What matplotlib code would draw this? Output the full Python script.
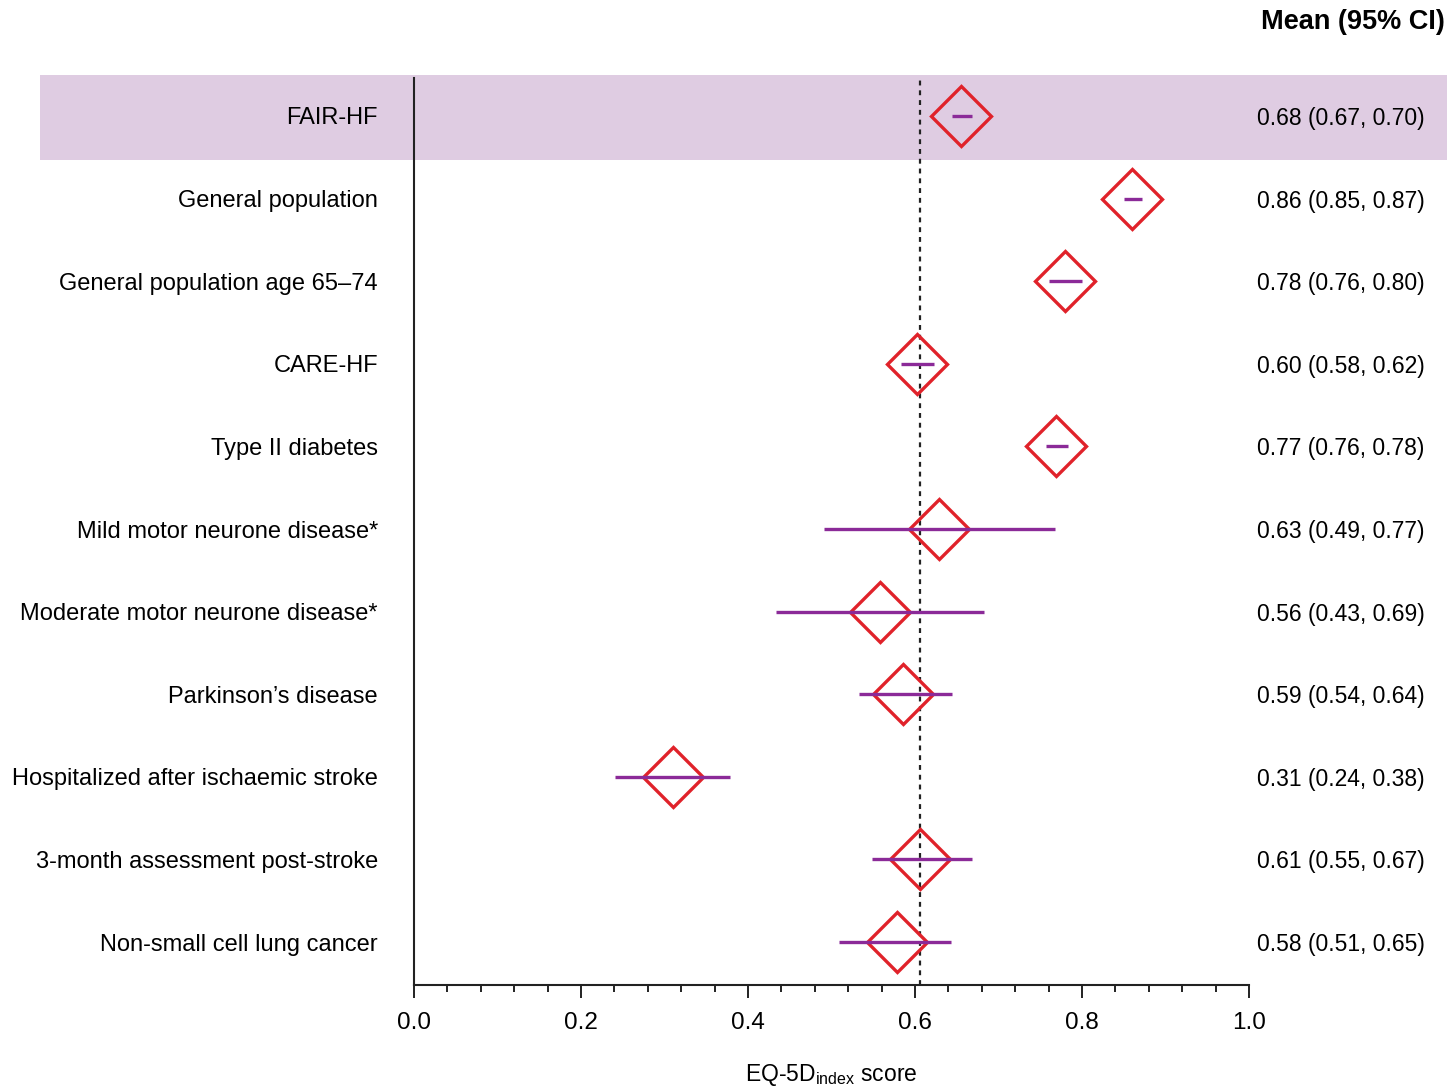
import matplotlib
matplotlib.use("Agg")
import matplotlib.pyplot as plt
from matplotlib.patches import Rectangle
from matplotlib.ticker import MultipleLocator
import matplotlib.transforms as mtransforms

plt.rcParams['font.family'] = ['Liberation Sans', 'DejaVu Sans']
plt.rcParams['mathtext.fontset'] = 'custom'
plt.rcParams['mathtext.rm'] = 'Liberation Sans'

categories = ["FAIR-HF", "General population", "General population age 65\u201374",
              "CARE-HF", "Type II diabetes", "Mild motor neurone disease*",
              "Moderate motor neurone disease*", "Parkinson\u2019s disease",
              "Hospitalized after ischaemic stroke", "3-month assessment post-stroke",
              "Non-small cell lung cancer"]
means = [0.655, 0.860, 0.780, 0.602, 0.769, 0.629, 0.558, 0.586, 0.310, 0.606, 0.578]
ci_low = [0.644, 0.850, 0.760, 0.583, 0.757, 0.491, 0.434, 0.533, 0.241, 0.549, 0.509]
ci_high = [0.668, 0.872, 0.800, 0.623, 0.783, 0.768, 0.683, 0.644, 0.378, 0.668, 0.643]
value_labels = ["0.68 (0.67, 0.70)", "0.86 (0.85, 0.87)", "0.78 (0.76, 0.80)",
                "0.60 (0.58, 0.62)", "0.77 (0.76, 0.78)", "0.63 (0.49, 0.77)",
                "0.56 (0.43, 0.69)", "0.59 (0.54, 0.64)", "0.31 (0.24, 0.38)",
                "0.61 (0.55, 0.67)", "0.58 (0.51, 0.65)"]
reference_line = 0.606
xticks = [0.0, 0.2, 0.4, 0.6, 0.8, 1.0]
xtick_labels = ["0.0", "0.2", "0.4", "0.6", "0.8", "1.0"]

W, H = 1447, 1088
fig = plt.figure(figsize=(W / 100, H / 100), dpi=100)

# highlight band for first row (drawn beneath the axes)
band = Rectangle((40 / W, 1 - 160 / H), 1 - 40 / W, 85 / H,
                 transform=fig.transFigure, facecolor='#dfcce2',
                 edgecolor='none', zorder=-5)
fig.add_artist(band)

ax = fig.add_axes([414 / W, 1 - 985 / H, 835 / W, 907 / H])
ax.set_zorder(1)
ax.patch.set_alpha(0)

ypos = list(range(len(categories)))
purple = '#8b2a98'
red = '#e0222a'

ax.hlines(ypos, ci_low, ci_high, color=purple, lw=2.4, zorder=4)
ax.plot(means, ypos, linestyle='none', marker='D', markersize=30.5,
        markerfacecolor='none', markeredgecolor=red, markeredgewidth=2.4, zorder=3)
ax.axvline(reference_line, color='#222222', lw=1.6, ls=(0, (2.2, 2.2)), zorder=2)

ax.set_xlim(0, 1.0)
ax.set_ylim(10.52, -0.46)
ax.set_xticks(xticks)
ax.set_xticklabels(xtick_labels)
ax.xaxis.set_minor_locator(MultipleLocator(0.04))
ax.tick_params(axis='x', which='major', length=9.5, width=1.4, pad=10, labelsize=17.5, color='#222222')
ax.tick_params(axis='x', which='minor', length=5, width=1.4, color='#222222')
ax.set_yticks(ypos)
ax.set_yticklabels(categories)
ax.tick_params(axis='y', length=0, pad=26, labelsize=17)
for s in ['top', 'right']:
    ax.spines[s].set_visible(False)
for s in ['left', 'bottom']:
    ax.spines[s].set_linewidth(1.5)
    ax.spines[s].set_color('#222222')

ax.set_xlabel('EQ-5D$_{\\mathregular{index}}$ score', fontsize=16.5, labelpad=20)

trans = mtransforms.blended_transform_factory(fig.transFigure, ax.transData)
for y, lab in zip(ypos, value_labels):
    ax.text(1257 / W, y, lab, transform=trans, ha='left', va='center_baseline', fontsize=16.5)

fig.text(1445 / W, 1 - 22 / H, 'Mean (95% CI)', ha='right', va='center',
         fontsize=19.5, fontweight='bold')

fig.savefig('out.png', dpi=100)
